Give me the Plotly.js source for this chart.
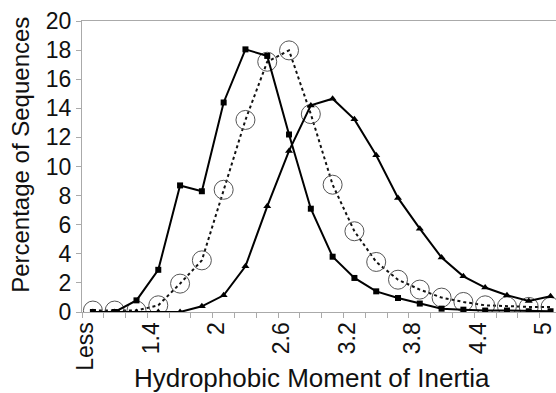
<!DOCTYPE html>
<html>
<head>
<meta charset="utf-8">
<script src="https://cdn.plot.ly/plotly-3.0.1.min.js"></script>
<style>html,body{margin:0;padding:0;background:#fff;}#chart{width:556px;height:393px;}</style>
</head>
<body>
<div id="chart"></div>
<script>
const categories = ["Less","1","1.2","1.4","1.6","1.8","2","2.2","2.4","2.6","2.8","3","3.2","3.4","3.6","3.8","4","4.2","4.4","4.6","4.8","5"];
const labelCategories = ["Less","1.4","2","2.6","3.2","3.8","4.4","5"];
const squareSeries = [0,0,0.8,2.9,8.7,8.3,14.4,18.05,17.6,12.2,7.1,3.8,2.34,1.42,0.96,0.58,0.23,0.16,0.1,0.1,0.05,0.05];
const circleSeries = [0.1,0.1,0.1,0.46,1.95,3.55,8.4,13.2,17.2,17.98,13.6,8.75,5.55,3.44,2.22,1.54,0.99,0.69,0.46,0.39,0.35,0.35];
const triangleSeries = [0,0,0,0,0,0.39,1.15,3.14,7.26,11.07,14.2,14.66,13.24,10.77,7.84,5.73,3.74,2.45,1.68,1.15,0.76,1.08];
const xTitle = 'Hydrophobic Moment of Inertia';
const yTitle = 'Percentage of Sequences';

const idx = categories.map((c,i)=>i);
const tickIdx = labelCategories.map(l=>categories.indexOf(l));

const traces = [
  {x: idx, y: circleSeries, mode:'lines+markers', line:{color:'#111', width:2, dash:'dot'},
   marker:{symbol:'circle-open', size:19, color:'#555', line:{width:1, color:'#555'}}},
  {x: idx, y: squareSeries, mode:'lines+markers', line:{color:'#000', width:2},
   marker:{symbol:'square', size:6, color:'#000'}},
  {x: idx, y: triangleSeries, mode:'lines+markers', line:{color:'#000', width:2},
   marker:{symbol:'triangle-up', size:7, color:'#000'}}
];

const layout = {
  width:556, height:393,
  margin:{l:82, r:0, t:21, b:81},
  paper_bgcolor:'#fff', plot_bgcolor:'#fff',
  showlegend:false,
  font:{family:'"Liberation Sans", Arial, sans-serif', color:'#111'},
  xaxis:{
    type:'linear', range:[-0.5, 21.25],
    tickmode:'array', tickvals: tickIdx, ticktext: labelCategories,
    tickangle:-90, ticks:'', tickfont:{size:23}, ticklabelshift:-7, ticklabeloverflow:'allow',
    showline:true, linecolor:'#aaa', linewidth:1, mirror:true,
    showgrid:false, zeroline:false,
    minor:{tickmode:'linear', tick0:-0.5, dtick:1, ticks:'outside', ticklen:5, tickcolor:'#aaa', showgrid:false}
  },
  yaxis:{
    range:[0,20], tickmode:'linear', tick0:0, dtick:2,
    ticks:'outside', ticklen:5, tickcolor:'#aaa', tickfont:{size:23},
    showline:true, linecolor:'#aaa', linewidth:1,
    showgrid:false, zeroline:false
  },
  annotations:[
    {text:xTitle, xref:'paper', yref:'paper', x:0.485, y:0, xanchor:'center', yanchor:'top',
     yshift:-49, showarrow:false, font:{size:26}},
    {text:yTitle, xref:'paper', yref:'paper', x:0, y:0.54, xanchor:'center', yanchor:'middle',
     xshift:-61, textangle:-90, showarrow:false, font:{size:24}}
  ]
};

Plotly.newPlot('chart', traces, layout, {displayModeBar:false, staticPlot:true});
</script>
</body>
</html>
